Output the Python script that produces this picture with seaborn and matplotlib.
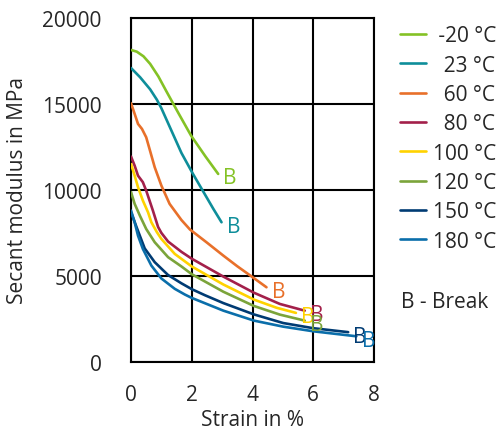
import numpy as np
import pandas as pd
import seaborn as sns
import matplotlib.pyplot as plt

temps = ["-20 °C", "23 °C", "60 °C", "80 °C", "100 °C", "120 °C", "150 °C", "180 °C"]
colors = ["#84C225", "#0E8E9A", "#E8702A", "#A3204A", "#FFD200", "#7BA43A", "#003B73", "#0A6EAA"]

strain_m20 = [0.0, 0.19, 0.41, 0.63, 0.9, 1.16, 1.55, 1.98, 2.45, 2.87]
mod_m20 = [18140, 18040, 17770, 17330, 16600, 15750, 14500, 13150, 11950, 10930]

strain_23 = [0.0, 0.3, 0.63, 0.85, 1.0, 1.33, 1.66, 2.04, 2.38, 2.71, 2.98]
mod_23 = [17090, 16550, 15850, 15250, 14750, 13450, 12150, 10930, 9900, 8900, 8120]

strain_60 = [0.0, 0.12, 0.23, 0.36, 0.5, 0.61, 0.78, 1.0, 1.27, 1.66, 1.94, 2.49, 3.04, 3.5, 4.0, 4.46]
mod_60 = [15040, 14420, 13840, 13550, 13060, 12380, 11320, 10250, 9190, 8250, 7700, 6950, 6180, 5560, 4930, 4340]

strain_80 = [0.0, 0.12, 0.23, 0.39, 0.5, 0.61, 0.72, 0.89, 1.0, 1.22, 1.66, 2.0, 3.04, 4.05, 4.9, 5.72]
mod_80 = [11940, 11410, 10830, 10450, 9960, 9380, 8800, 7850, 7500, 7000, 6400, 6000, 4960, 4020, 3370, 2980]

strain_100 = [0.0, 0.12, 0.23, 0.39, 0.56, 0.67, 0.85, 1.0, 1.44, 2.0, 3.04, 4.05, 4.79, 5.43]
mod_100 = [11510, 10830, 10160, 9380, 8700, 8120, 7550, 7150, 6280, 5550, 4500, 3620, 3150, 2850]

strain_120 = [0.0, 0.12, 0.29, 0.5, 0.78, 1.22, 1.66, 2.0, 3.04, 4.05, 4.9, 5.72]
mod_120 = [9870, 9190, 8510, 7730, 6960, 6090, 5550, 5100, 4080, 3250, 2750, 2400]

strain_150 = [0.0, 0.19, 0.45, 0.78, 1.22, 1.66, 2.0, 2.43, 3.04, 4.05, 5.01, 6.0, 7.15]
mod_150 = [8700, 7800, 6600, 5800, 5050, 4570, 4230, 3880, 3420, 2760, 2260, 1960, 1730]

strain_180 = [0.0, 0.12, 0.23, 0.39, 0.67, 1.0, 1.44, 1.77, 2.0, 3.04, 4.05, 5.01, 6.0, 7.42]
mod_180 = [8800, 8120, 7340, 6570, 5600, 4850, 4250, 3920, 3720, 2980, 2400, 2050, 1780, 1490]

strains = [strain_m20, strain_23, strain_60, strain_80, strain_100, strain_120, strain_150, strain_180]
mods = [mod_m20, mod_23, mod_60, mod_80, mod_100, mod_120, mod_150, mod_180]

# padded so the numbers look right aligned in the legend
legend_labels = [" -20 °C", "  23 °C", "  60 °C", "  80 °C", "100 °C", "120 °C", "150 °C", "180 °C"]

rows = []
for t, xs, ys in zip(temps, strains, mods):
    for x, y in zip(xs, ys):
        rows.append({"temp": t, "strain": x, "modulus": y})
df = pd.DataFrame(rows)

sns.set_style("white")
plt.rcParams["font.family"] = ["Open Sans", "DejaVu Sans"]
plt.rcParams["font.size"] = 15

fig = plt.figure(figsize=(5.02, 4.31), dpi=100)
ax = fig.add_axes([0.261, 0.158, 0.484, 0.798])

sns.lineplot(data=df, x="strain", y="modulus", hue="temp", hue_order=temps,
             palette=dict(zip(temps, colors)), sort=False, estimator=None,
             legend=False, linewidth=1.9, ax=ax, zorder=3)

# break markers at the end of each curve
for xs, ys, c in zip(strains, mods, colors):
    ax.annotate("B", (xs[-1], ys[-1]), xytext=(12, -4), textcoords="offset pixels",
                ha="center", va="center", color=c, fontsize=15, zorder=4)

ax.set_xlim(0, 8)
ax.set_ylim(0, 20000)
ax.set_xticks([0, 2, 4, 6, 8])
ax.set_yticks([0, 5000, 10000, 15000, 20000])
ax.grid(True, color="black", linewidth=1.5)
ax.set_axisbelow(True)
for s in ax.spines.values():
    s.set_color("black")
    s.set_linewidth(1.5)
ax.tick_params(axis="y", direction="out", length=8, width=1.5, color="black", pad=13, labelsize=15)
ax.tick_params(axis="x", direction="out", length=5, width=1.5, color="black", pad=11, labelsize=15)
ax.set_xlabel("Strain in %", fontsize=15, labelpad=3)
ax.set_ylabel("Secant modulus in MPa", fontsize=15, labelpad=10)

ax.legend(ax.lines[:len(temps)], legend_labels, loc="upper left",
          bbox_to_anchor=(0.797, 0.939), bbox_transform=fig.transFigure,
          frameon=False, borderpad=0, borderaxespad=0, handlelength=1.25,
          handletextpad=0.35, labelspacing=0.4, fontsize=15)

fig.text(0.799, 0.299, "B - Break", ha="left", va="center", fontsize=15)

fig.savefig("out.png", dpi=100)
